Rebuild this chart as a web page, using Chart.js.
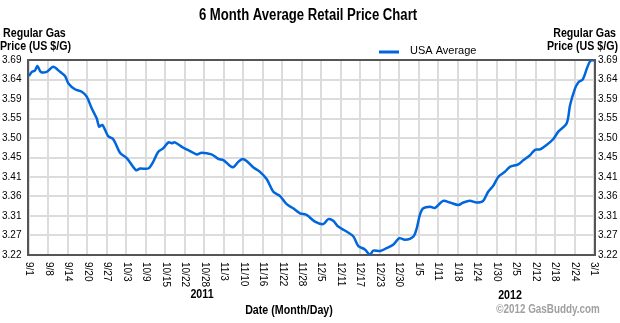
<!DOCTYPE html>
<html lang="en">
<head>
    <meta charset="UTF-8">
    <title>6 Month Average Retail Price Chart</title>
    <style>
        body {
    margin: 0;
    background-color: #fff;
}

.chart-box {
    width: 620px;
    height: 323px;
    position: relative;
}
    </style>
    <script src="https://cdn.jsdelivr.net/npm/chart.js"></script>
</head>
<body>

    <div class="chart-box">
        <canvas id="gasChart" width="620" height="323"></canvas>
    </div>

    <script>
// days since 9/1/2011 and the average price on that day
const dayOffsets = [0, 0.9, 1.9, 2.7, 3.8, 5.7, 7.8, 10.0, 11.6, 12.7, 14.8, 17.0, 18.6, 20.2, 21.8, 22.6, 23.6, 24.5, 25.5, 27.2,
    29.3, 31.5, 34.5, 35.8, 38.4, 40.0, 41.6, 43.3, 44.9, 46.0, 47.0, 49.7, 51.9, 54.0, 55.6, 58.8, 61.0, 62.6, 64.5, 65.8,
    67.4, 68.8, 70.1, 72.2, 74.4, 76.6, 78.7, 80.8, 83.0, 85.1, 87.3, 89.4, 92.1, 94.8, 96.4, 98.0, 99.6, 102.3, 104.5, 106.1,
    108.2, 109.8, 110.9, 113.1, 115.2, 117.3, 119.3, 121.1, 123.8, 124.9, 125.9, 127.0, 129.2, 130.8, 133.4, 135.6, 138.3, 139.9, 142.0, 144.2,
    146.3, 147.9, 149.6, 151.2, 153.3, 154.9, 157.6, 159.2, 161.4, 163.0, 164.6, 166.8, 168.9, 170.5, 173.2, 174.3, 175.9, 177.0, 178.4, 179.7,
    180.8, 182.0];
const usaAverage = [3.650, 3.660, 3.663, 3.674, 3.660, 3.660, 3.672, 3.660, 3.650, 3.632, 3.618, 3.612, 3.600, 3.572, 3.548, 3.528, 3.532, 3.520, 3.505, 3.497,
    3.465, 3.452, 3.423, 3.427, 3.427, 3.443, 3.467, 3.476, 3.490, 3.488, 3.490, 3.477, 3.469, 3.461, 3.465, 3.461, 3.450, 3.447, 3.435, 3.430,
    3.443, 3.450, 3.445, 3.430, 3.419, 3.401, 3.371, 3.361, 3.341, 3.331, 3.319, 3.315, 3.299, 3.293, 3.305, 3.301, 3.287, 3.275, 3.263, 3.240,
    3.232, 3.219, 3.229, 3.228, 3.235, 3.243, 3.259, 3.255, 3.263, 3.283, 3.315, 3.331, 3.335, 3.332, 3.349, 3.345, 3.339, 3.345, 3.349, 3.345,
    3.349, 3.371, 3.386, 3.407, 3.419, 3.431, 3.437, 3.447, 3.459, 3.472, 3.473, 3.484, 3.498, 3.516, 3.536, 3.580, 3.620, 3.635, 3.642, 3.668,
    3.686, 3.688];

const xTickLabels = ['9/1', '9/8', '9/14', '9/20', '9/27', '10/3', '10/9', '10/15', '10/22', '10/28',
    '11/3', '11/10', '11/16', '11/22', '11/28', '12/5', '12/11', '12/17', '12/23', '12/30',
    '1/5', '1/11', '1/18', '1/24', '1/30', '2/5', '2/12', '2/18', '2/24', '3/1'];
const yTickLabels = ['3.22', '3.27', '3.31', '3.36', '3.41', '3.45', '3.50', '3.55', '3.59', '3.64', '3.69'];
const yearLabels = ['2011', '2012'];

const totalDays = 182;
const yMin = 3.2185;
const yMax = 3.6885;

document.addEventListener("DOMContentLoaded", function () {
    const ctx = document.getElementById('gasChart').getContext('2d');
    const plain = 'Arial, "Liberation Sans", sans-serif';

    // no narrow font installed, so squeeze bold text sideways
    function narrowText(c, text, x, y, align, size) {
        c.save();
        c.font = 'bold ' + size + 'px ' + plain;
        c.textAlign = align;
        c.textBaseline = 'middle';
        c.translate(x, y);
        c.scale(0.82, 1);
        c.fillText(text, 0, 0);
        c.restore();
    }

    // titles, box, tick labels drawn on top of the chart
    const decorations = {
        id: 'decorations',
        beforeDatasetsDraw(chart) {
            const a = chart.chartArea;
            const c = chart.ctx;
            c.save();
            c.strokeStyle = '#555';
            c.lineWidth = 2;
            c.strokeRect(a.left, a.top, a.right - a.left, a.bottom - a.top);
            c.restore();
        },
        afterDraw(chart) {
            const c = chart.ctx;
            const xs = chart.scales.x;
            const ys = chart.scales.y;
            c.save();
            c.fillStyle = '#000';

            narrowText(c, '6 Month Average Retail Price Chart', 308, 16, 'center', 16);

            // axis titles
            narrowText(c, 'Regular Gas', 3, 33, 'left', 13);
            narrowText(c, 'Price (US $/G)', 0, 46, 'left', 13);
            narrowText(c, 'Regular Gas', 616, 33, 'right', 13);
            narrowText(c, 'Price (US $/G)', 618, 46, 'right', 13);

            // legend
            c.strokeStyle = '#0066dd';
            c.lineWidth = 3;
            c.beginPath();
            c.moveTo(379, 52);
            c.lineTo(399, 52);
            c.stroke();
            c.font = '11px ' + plain;
            c.textAlign = 'left';
            c.textBaseline = 'middle';
            c.fillText('USA Average', 410, 51);

            // y tick labels on both sides
            c.font = '10px ' + plain;
            yTickLabels.forEach(function (lbl, i) {
                const y = ys.getPixelForValue(yMin + i * (yMax - yMin) / 10);
                c.fillText(lbl, 2, y);
                c.fillText(lbl, 598, y);
            });

            // x tick labels, turned to read downward
            xTickLabels.forEach(function (lbl, i) {
                const x = xs.getPixelForValue(i * totalDays / 29);
                c.save();
                c.translate(x, 262);
                c.rotate(Math.PI / 2);
                c.fillText(lbl, 0, 0);
                c.restore();
            });

            // years and axis name
            narrowText(c, yearLabels[0], 202, 294, 'center', 13);
            narrowText(c, yearLabels[1], 510, 295, 'center', 13);
            narrowText(c, 'Date (Month/Day)', 289, 310, 'center', 13);
            c.fillStyle = '#a0a0a0';
            narrowText(c, '\u00a92012 GasBuddy.com', 548, 310, 'center', 12);
            c.restore();
        }
    };

    new Chart(ctx, {
        type: 'line',
        data: {
            datasets: [{
                label: 'USA Average',
                data: dayOffsets.map((d, i) => ({ x: d, y: usaAverage[i] })),
                borderColor: '#0066dd',
                borderWidth: 2.5,
                pointRadius: 0,
                tension: 0.3,
                fill: false
            }]
        },
        options: {
            responsive: false,
            devicePixelRatio: 1,
            animation: false,
            layout: {
                padding: { left: 28, right: 25, top: 60, bottom: 68 }
            },
            plugins: {
                legend: { display: false },
                tooltip: { enabled: false }
            },
            scales: {
                x: {
                    type: 'linear',
                    min: -0.32,
                    max: totalDays + 0.32,
                    afterBuildTicks: function (axis) {
                        axis.ticks = xTickLabels.map((_, i) => ({ value: i * totalDays / 29 }));
                    },
                    ticks: { display: false },
                    grid: { color: '#dcdcdc', lineWidth: 2, drawTicks: false },
                    border: { display: false }
                },
                y: {
                    min: yMin,
                    max: yMax,
                    afterBuildTicks: function (axis) {
                        axis.ticks = yTickLabels.map((_, i) => ({ value: yMin + i * (yMax - yMin) / 10 }));
                    },
                    ticks: { display: false },
                    grid: { color: '#dcdcdc', lineWidth: 2, drawTicks: false },
                    border: { display: false }
                }
            }
        },
        plugins: [decorations]
    });
});
    </script>
</body>
</html>
